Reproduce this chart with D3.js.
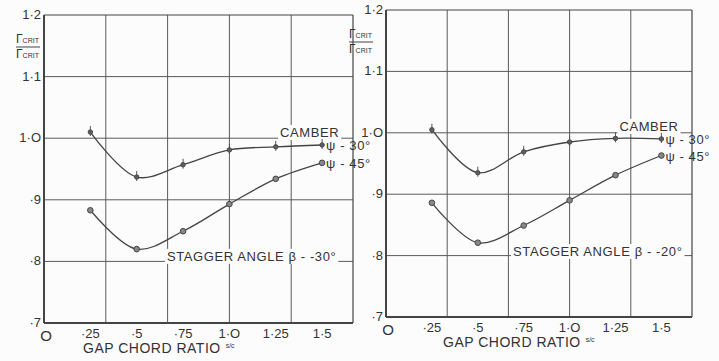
<!DOCTYPE html>
<html>
<head>
<meta charset="utf-8">
<title>Gap chord ratio</title>
<script src="https://d3js.org/d3.v7.min.js"></script>
<style>
  body { margin: 0; background: #fcfcfc; }
  svg { display: block; font-family: "Liberation Sans", Arial, sans-serif; fill: #333; }
  .grid line { stroke: #5a5a5a; stroke-width: 1; }
  .frame { fill: none; stroke: #444; }
  .curve { fill: none; stroke: #444; stroke-width: 1.3; }
  .lbl { font-size: 13px; fill: #333; letter-spacing: 0.6px; }
  .tick { font-size: 13px; fill: #333; }
</style>
</head>
<body>
<svg id="chart" width="719" height="361"></svg>
<script>
// data
var gapChord = [0.25, 0.5, 0.75, 1.0, 1.25, 1.5];

var left30 = [1.010, 0.937, 0.957, 0.981, 0.986, 0.989];
var left45 = [0.883, 0.820, 0.849, 0.893, 0.934, 0.960];
var right30 = [1.005, 0.935, 0.969, 0.985, 0.991, 0.990];
var right45 = [0.886, 0.821, 0.849, 0.890, 0.931, 0.963];

var xTicks = [0, 0.25, 0.5, 0.75, 1.0, 1.25, 1.5];
var xTickLabels = ["O", "·25", "·5", "·75", "1·O", "1·25", "1·5"];
var yTicks = [0.7, 0.8, 0.9, 1.0, 1.1, 1.2];
var yTickLabels = ["·7", "·8", "·9", "1·O", "1·1", "1·2"];
var gridX = [1/3, 2/3, 1, 4/3];

var panels = [
  { x0: 44, x1: 353, yTop: 15, yBot: 323, upper: left30, lower: left45,
    stagger: "STAGGER ANGLE β - -30°", sx: 0.663, sy: 0.809, labelX: 5, xlab: 83 },
  { x0: 386, x1: 692, yTop: 10, yBot: 317, upper: right30, lower: right45,
    stagger: "STAGGER ANGLE β - -20°", sx: 0.692, sy: 0.8075, labelX: 338, xlab: 443 }
];

var svg = d3.select("#chart");

panels.forEach(function (p) {
  var x = d3.scaleLinear().domain([0, 5 / 3]).range([p.x0, p.x1]);
  var y = d3.scaleLinear().domain([0.7, 1.2]).range([p.yBot, p.yTop]);
  var g = svg.append("g");

  // grid
  var grid = g.append("g").attr("class", "grid");
  grid.selectAll(".v").data(gridX).enter().append("line")
    .attr("x1", function (d) { return x(d); }).attr("x2", function (d) { return x(d); })
    .attr("y1", y(1.2)).attr("y2", y(0.7));
  grid.selectAll(".h").data(yTicks.slice(1, 5)).enter().append("line")
    .attr("x1", x(0)).attr("x2", x(5 / 3))
    .attr("y1", function (d) { return y(d); }).attr("y2", function (d) { return y(d); });

  // frame: heavier left & bottom
  g.append("line").attr("class", "frame").attr("x1", x(0)).attr("x2", x(5 / 3))
    .attr("y1", y(1.2)).attr("y2", y(1.2)).attr("stroke-width", 1.2);
  g.append("line").attr("class", "frame").attr("x1", x(5 / 3)).attr("x2", x(5 / 3))
    .attr("y1", y(1.2)).attr("y2", y(0.7)).attr("stroke-width", 1.2);
  g.append("line").attr("class", "frame").attr("x1", x(0)).attr("x2", x(0))
    .attr("y1", y(1.2)).attr("y2", y(0.7)).attr("stroke-width", 2);
  g.append("line").attr("class", "frame").attr("x1", x(0)).attr("x2", x(5 / 3))
    .attr("y1", y(0.7)).attr("y2", y(0.7)).attr("stroke-width", 2);

  // tick labels
  g.selectAll(".yt").data(yTicks).enter().append("text")
    .attr("class", "tick").attr("text-anchor", "end")
    .attr("x", x(0) - 3).attr("y", function (d) { return y(d) + 4; })
    .text(function (d, i) { return yTickLabels[i]; });
  g.selectAll(".xt").data(xTicks).enter().append("text")
    .attr("class", "tick").attr("text-anchor", "middle")
    .attr("x", function (d) { return x(d) + (d === 0 ? 2 : 0); })
    .attr("y", function (d) { return y(0.7) + (d === 0 ? 18 : 15); })
    .style("font-size", function (d) { return d === 0 ? "15px" : null; })
    .text(function (d, i) { return xTickLabels[i]; });

  // axis titles
  var xt = g.append("text").attr("class", "lbl").attr("x", p.xlab).attr("y", y(0.7) + 30)
    .style("font-size", "14px").style("letter-spacing", "0.5px").text("GAP CHORD RATIO");
  var xb = xt.node().getBBox();
  g.append("text").attr("x", xb.x + xb.width + 5).attr("y", y(0.7) + 25)
    .style("font-size", "7px").text("s/c");

  var yl = g.append("g").attr("transform", "translate(" + p.labelX + "," + (p.yTop + 28) + ")");
  var num = yl.append("text").attr("x", 11).attr("y", 0).style("font-size", "12px");
  num.append("tspan").text("Γ");
  num.append("tspan").style("font-size", "7px").text("CRIT");
  yl.append("line").attr("x1", 11).attr("x2", 35).attr("y1", 4).attr("y2", 4)
    .attr("stroke", "#444").attr("stroke-width", 1);
  var den = yl.append("text").attr("x", 11).attr("y", 15).style("font-size", "12px");
  den.append("tspan").text("Γ");
  den.append("tspan").style("font-size", "7px").text("CRIT");

  // curves
  var line = d3.line()
    .x(function (d, i) { return x(gapChord[i]); })
    .y(function (d) { return y(d); })
    .curve(d3.curveCatmullRom.alpha(0.5));
  g.append("path").attr("class", "curve").attr("d", line(p.upper));
  g.append("path").attr("class", "curve").attr("d", line(p.lower));

  // markers
  g.selectAll(".mu").data(p.upper).enter().append("g")
    .attr("transform", function (d, i) { return "translate(" + x(gapChord[i]) + "," + y(d) + ")"; })
    .each(function () {
      var m = d3.select(this);
      m.append("circle").attr("r", 2.2).attr("fill", "#666").attr("stroke", "#444");
      m.append("line").attr("y1", -6).attr("y2", 4).attr("stroke", "#555").attr("stroke-width", 1);
    });
  g.selectAll(".ml").data(p.lower).enter().append("circle")
    .attr("cx", function (d, i) { return x(gapChord[i]); })
    .attr("cy", function (d) { return y(d); })
    .attr("r", 2.8).attr("fill", "#888").attr("stroke", "#444").attr("stroke-width", 1);

  // labels
  var lx = x(1.5), u = y(p.upper[5]), l = y(p.lower[5]);
  var cam = g.append("text").attr("class", "lbl").attr("x", lx - 42).attr("y", u - 8).text("CAMBER");
  var bb = cam.node().getBBox();
  g.insert("rect", "text.lbl").attr("x", bb.x - 2).attr("y", bb.y).attr("width", bb.width + 4)
    .attr("height", bb.height).attr("fill", "#fcfcfc");
  g.append("text").attr("class", "lbl").attr("x", lx + 4).attr("y", u + 5).text("ψ - 30°");
  g.append("text").attr("class", "lbl").attr("x", lx + 4).attr("y", l + 5).text("ψ - 45°");

  var st = g.append("text").attr("class", "lbl").attr("x", x(p.sx)).attr("y", y(p.sy) + 5).text(p.stagger);
  var sb = st.node().getBBox();
  g.insert("rect", "text.lbl").attr("x", sb.x - 2).attr("y", sb.y).attr("width", sb.width + 4)
    .attr("height", sb.height).attr("fill", "#fcfcfc");
});
</script>
</body>
</html>
